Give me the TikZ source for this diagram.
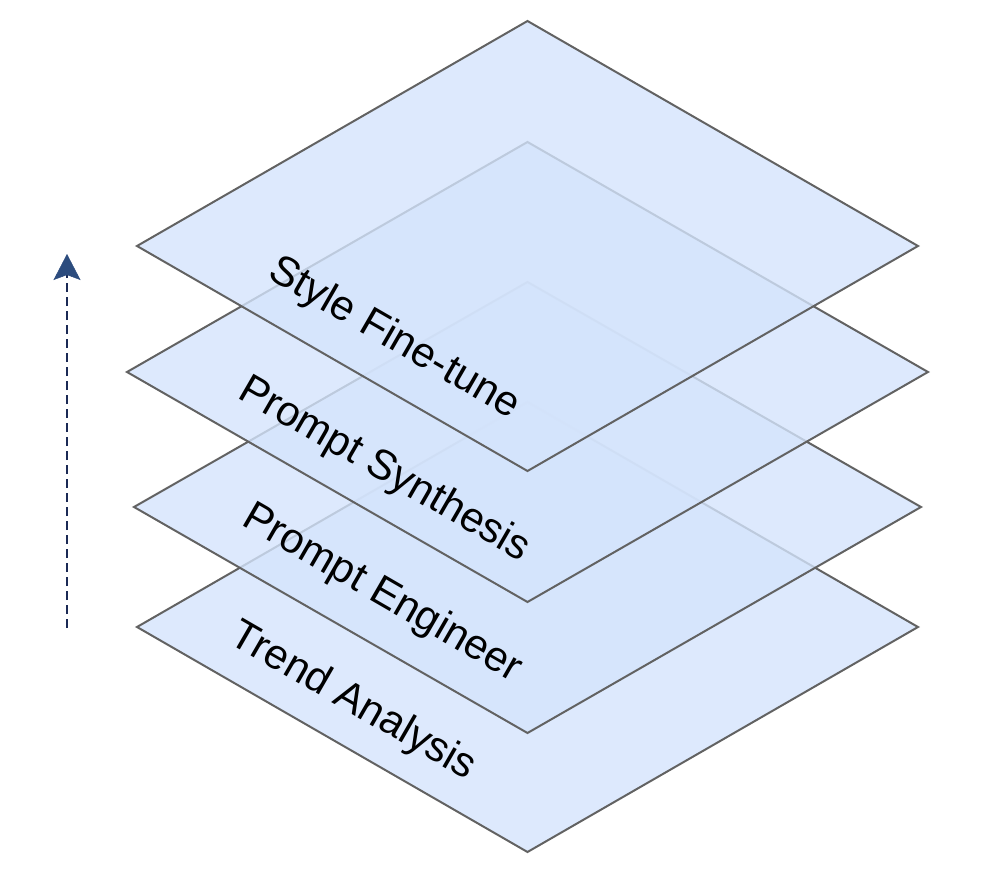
\documentclass[tikz,border=0pt]{standalone}
\usepackage{fontspec}
\setmainfont{Liberation Sans}
\usetikzlibrary{arrows.meta}
\definecolor{layerfill}{HTML}{D4E4FC}
\definecolor{layeredge}{HTML}{626262}
\definecolor{arrowline}{HTML}{1B2A55}
\definecolor{arrowtip}{HTML}{2C4C7E}
\begin{document}
\begin{tikzpicture}[x=1pt,y=-1pt,
  layer/.style={fill=layerfill, fill opacity=0.8, draw=layeredge, line width=2pt, line join=miter},
  lbl/.style={font=\fontsize{42}{50}\selectfont, rotate=-30, inner sep=0pt, text=black},
  flowarrow/.style={draw=arrowline, line width=1.9pt, dash pattern=on 9pt off 5pt,
    -{Stealth[length=26pt, width=27pt, inset=5pt, color=arrowtip, fill=arrowtip, line width=0.5pt, sep=0pt]}}]
\useasboundingbox (0,0) rectangle (988,870);
% layer 4 (bottom)
\coordinate (d4t) at (527.5,402); \coordinate (d4r) at (918,627);
\coordinate (d4b) at (527.5,852); \coordinate (d4l) at (137,627);
\draw[layer] (d4t) -- (d4r) -- (d4b) -- (d4l) -- cycle;
% layer 3
\coordinate (d3t) at (527.5,282); \coordinate (d3r) at (921,507);
\coordinate (d3b) at (527.5,733); \coordinate (d3l) at (134,507);
\draw[layer] (d3t) -- (d3r) -- (d3b) -- (d3l) -- cycle;
% layer 2
\coordinate (d2t) at (527.5,142); \coordinate (d2r) at (928,372);
\coordinate (d2b) at (527.5,602); \coordinate (d2l) at (127,372);
\draw[layer] (d2t) -- (d2r) -- (d2b) -- (d2l) -- cycle;
% layer 1 (top)
\coordinate (d1t) at (527.5,21); \coordinate (d1r) at (918,246);
\coordinate (d1b) at (527.5,471); \coordinate (d1l) at (137,246);
\draw[layer] (d1t) -- (d1r) -- (d1b) -- (d1l) -- cycle;
% labels
\node[lbl] (l1) at (394,339) {Style Fine-tune};
\node[lbl] (l2) at (384,470) {Prompt Synthesis};
\node[lbl] (l3) at (382,594) {Prompt Engineer};
\node[lbl] (l4) at (353,702) {Trend Analysis};
% arrow
\coordinate (abot) at (67,628);
\coordinate (atop) at (67,254);
\draw[flowarrow] (abot) -- (atop);
\end{tikzpicture}
\end{document}
